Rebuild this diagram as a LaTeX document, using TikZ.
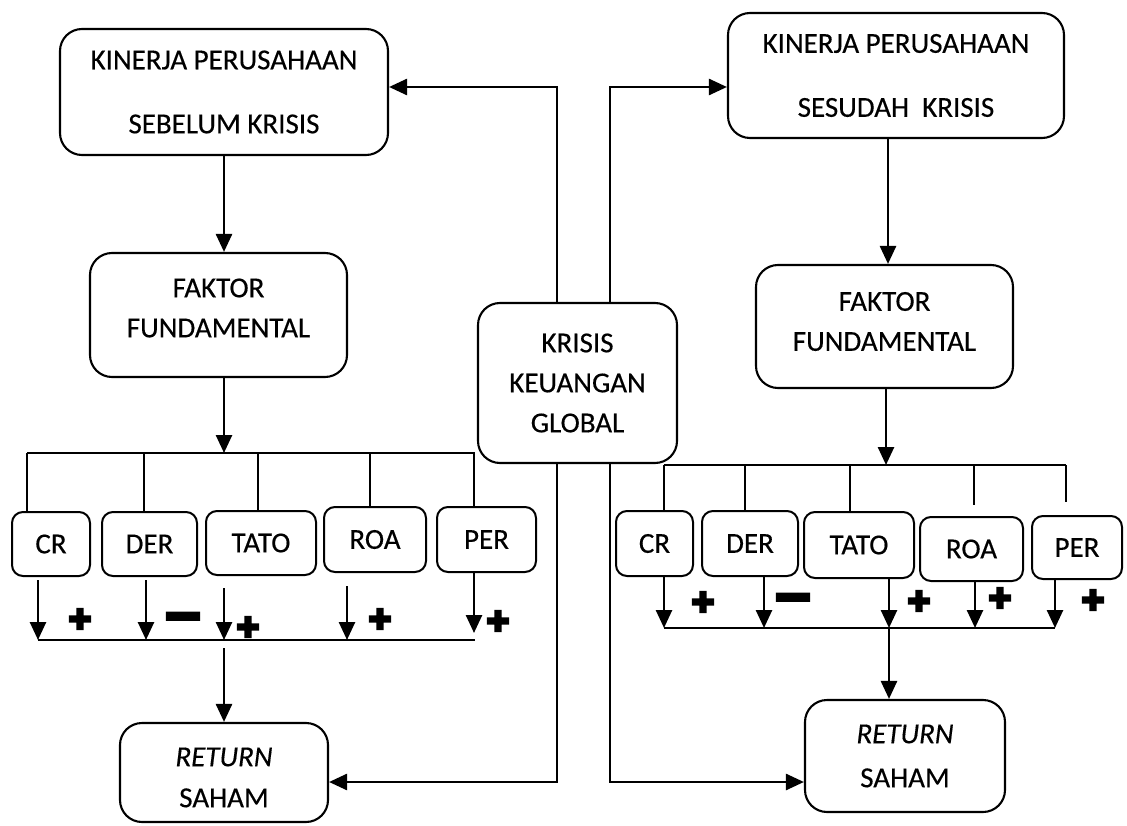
\documentclass[tikz,border=0pt]{standalone}
\usepackage{fontspec}
\setmainfont{Carlito}[FakeBold=0.35]
\newfontfamily\symfont[FakeBold=6]{DejaVu Sans}
\usetikzlibrary{arrows.meta}
\newcommand\kpsize{\fontsize{29}{64}\selectfont}
\newcommand\boxsize{\fontsize{29}{40}\selectfont}
\begin{document}
\begin{tikzpicture}[x=1pt,y=-1pt,
  box/.style={draw, line width=2.1pt, rounded corners=22pt, align=center, inner sep=0pt, font=\boxsize},
  sbox/.style={draw, line width=2pt, rounded corners=11pt, inner sep=0pt, font=\boxsize},
  txt/.style={align=center, inner sep=0pt, font=\boxsize},
  arr/.style={-{Triangle[length=18pt,width=16pt]}, line width=2.6pt},
  bus/.style={line width=2.1pt},
  plus/.style={font=\symfont\fontsize{28}{28}\selectfont, inner sep=0pt},
  minus/.style={font=\symfont\fontsize{36}{36}\selectfont, inner sep=0pt}]
\useasboundingbox[fill=white] (0,0) rectangle (1127,826);

% main boxes
\node[box, minimum width=328pt, minimum height=126pt, font=\kpsize] (kp1) at (224,92) {KINERJA PERUSAHAAN\\SEBELUM KRISIS};
\node[box, minimum width=336pt, minimum height=125pt, font=\kpsize] (kp2) at (896,75.5) {KINERJA PERUSAHAAN\\SESUDAH\ \ KRISIS};
\node[box, minimum width=257pt, minimum height=124pt] (ff1) at (218.5,315) {};
\node[txt] (ff1t) at ([yshift=7pt]ff1.center) {FAKTOR\\FUNDAMENTAL};
\node[box, minimum width=257pt, minimum height=123pt] (ff2) at (884.5,326.5) {};
\node[txt] (ff2t) at ([yshift=5pt]ff2.center) {FAKTOR\\FUNDAMENTAL};
\node[box, minimum width=199pt, minimum height=160pt] (kr) at (577.5,383) {KRISIS\\KEUANGAN\\GLOBAL};
\node[box, minimum width=208pt, minimum height=99pt] (rs1) at (224,772.5) {};
\node[txt, font=\fontsize{29}{41}\selectfont] (rs1t) at ([yshift=-5pt]rs1.center) {\textit{RETURN}\\SAHAM};
\node[box, minimum width=200pt, minimum height=112pt, font=\fontsize{29}{44}\selectfont] (rs2) at (905,756) {\textit{RETURN}\\SAHAM};

% small boxes left
\node[sbox, minimum width=78pt, minimum height=64pt] (cr1) at (51,544) {CR};
\node[sbox, minimum width=95pt, minimum height=64pt] (der1) at (149.5,544) {DER};
\node[sbox, minimum width=110pt, minimum height=64pt] (tato1) at (261,543) {TATO};
\node[sbox, minimum width=102pt, minimum height=65pt] (roa1) at (375,539.5) {ROA};
\node[sbox, minimum width=99pt, minimum height=65pt] (per1) at (486.5,539.5) {PER};

% small boxes right
\node[sbox, minimum width=77pt, minimum height=65pt] (cr2) at (654.5,543.5) {CR};
\node[sbox, minimum width=96pt, minimum height=65pt] (der2) at (750,543.5) {DER};
\node[sbox, minimum width=110pt, minimum height=66pt] (tato2) at (859,545) {TATO};
\node[sbox, minimum width=103pt, minimum height=64pt] (roa2) at (971.5,549) {ROA};
\node[sbox, minimum width=90pt, minimum height=63pt] (per2) at (1077,547.5) {PER};

% krisis connections
\draw[arr] (kr.north -| 557,0) |- (kp1.east |- 0,87);
\draw[arr] (kr.north -| 610,0) |- (kp2.west |- 0,87);
\draw[arr] (kr.south -| 557,0) |- (rs1.east |- 0,782);
\draw[arr] (kr.south -| 610,0) |- (rs2.west |- 0,782);

% left flow
\draw[arr] (kp1.south -| 224,0) -- (ff1.north -| 224,0);
\coordinate (t1) at (224,453);
\draw[arr] (ff1.south -| t1) -- (t1);
\draw[bus] (27,453) -- (475,453);
\draw[bus] (27,453) -- (cr1.north -| 27,0);
\draw[bus] (144,453) -- (der1.north -| 144,0);
\draw[bus] (258,453) -- (tato1.north -| 258,0);
\draw[bus] (370,453) -- (roa1.north -| 370,0);
\draw[bus] (474,453) -- (per1.north -| 474,0);
\draw[arr, shorten <=3pt] (cr1.south -| 38,0) -- (38,640);
\draw[arr, shorten <=3pt] (der1.south -| 146,0) -- (146,640);
\draw[arr, shorten <=12pt] (tato1.south -| 224,0) -- (224,640);
\draw[arr, shorten <=13pt] (roa1.south -| 347,0) -- (347,640);
\draw[arr] (per1.south -| 474,0) -- (474,633);
\draw[bus] (38,640) -- (475,640);
\draw[arr] (224,648) -- (rs1.north -| 224,0);

% right flow
\draw[arr] (kp2.south -| 888,0) -- (ff2.north -| 888,0);
\coordinate (t2) at (886,465);
\draw[arr] (ff2.south -| t2) -- (t2);
\draw[bus] (664,465) -- (1066,465);
\draw[bus] (664,465) -- (cr2.north -| 664,0);
\draw[bus] (745,465) -- (der2.north -| 745,0);
\draw[bus] (850,465) -- (tato2.north -| 850,0);
\draw[bus, shorten >=11pt] (974,465) -- (roa2.north -| 974,0);
\draw[bus, shorten >=13pt] (1066,465) -- (per2.north -| 1066,0);
\draw[arr] (cr2.south -| 664,0) -- (664,628);
\draw[arr] (der2.south -| 764,0) -- (764,628);
\draw[arr] (tato2.south -| 889,0) -- (889,628);
\draw[arr] (roa2.south -| 975,0) -- (975,628);
\draw[arr] (per2.south -| 1055,0) -- (1055,628);
\draw[bus] (664,628) -- (1055,628);
\draw[arr] (889,628) -- (rs2.north -| 889,0);

% signs left
\node[plus] (p1) at (80,619) {✚};
\node[minus] (m1) at (183,617) {\scalebox{1.15}[0.6]{▬}};
\node[plus] (p2) at (248,627) {✚};
\node[plus] (p3) at (380,619) {✚};
\node[plus] (p4) at (498,621) {✚};
% signs right
\node[plus] (q1) at (703,602) {✚};
\node[minus] (m2) at (793,598) {\scalebox{1.15}[0.6]{▬}};
\node[plus] (q2) at (919,601) {✚};
\node[plus] (q3) at (1000,598) {✚};
\node[plus] (q4) at (1093,600) {✚};
\end{tikzpicture}
\end{document}
